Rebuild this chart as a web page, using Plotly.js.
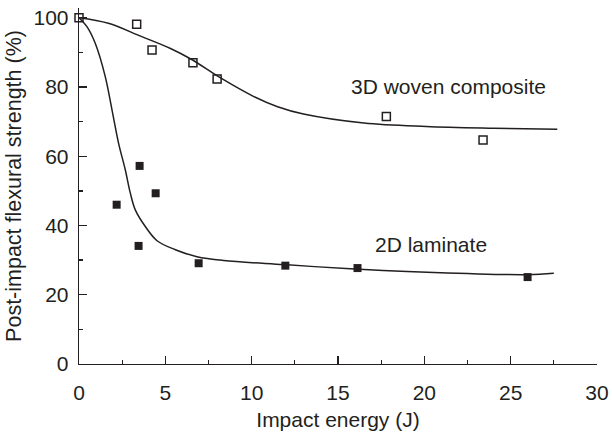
<!DOCTYPE html>
<html>
<head>
<meta charset="utf-8">
<script src="https://cdn.plot.ly/plotly-3.0.1.min.js"></script>
<style>html,body{margin:0;padding:0;background:#fff}#chart{width:612px;height:434px}</style>
</head>
<body>
<div id="chart"></div>
<script>
// Measured points: 3D woven composite (open squares)
const wovenX = [0, 3.34, 4.23, 6.6, 8.0, 17.8, 23.4];
const wovenY = [100, 98.1, 90.7, 87.0, 82.3, 71.5, 64.7];
// Measured points: 2D laminate (filled squares)
const lamX = [2.18, 3.51, 4.44, 3.45, 6.93, 11.95, 16.13, 25.98];
const lamY = [46.0, 57.2, 49.3, 34.1, 29.1, 28.4, 27.7, 25.1];
// Fitted curves
const wovenFitX = [0, 1.7, 3.6, 5.3, 6.5, 8.2, 10.1, 11.5, 13.0, 16.5, 20.1, 24.0, 27.7];
const wovenFitY = [100, 98.4, 94.6, 91.1, 88.0, 82.6, 77.3, 74.3, 72.2, 69.6, 68.6, 68.1, 67.8];
const lamFitX = [0, 0.46, 0.94, 1.52, 1.91, 2.29, 2.68, 2.97, 3.26, 3.84, 4.52, 5.58, 6.83, 8.37, 11.85, 15.7, 19.0, 22.5, 26.0, 27.5];
const lamFitY = [100, 97.4, 92.6, 83.0, 73.4, 63.8, 56.1, 49.4, 44.5, 39.7, 35.6, 33.0, 31.0, 29.9, 28.7, 27.5, 26.7, 26.1, 25.8, 26.2];
// Labels
const xTitle = 'Impact energy (J)';
const yTitle = 'Post-impact flexural strength (%)';
const wovenLabel = '3D woven composite';
const lamLabel = '2D laminate';

const ink = '#231f20';
const fontFam = 'Liberation Sans, Arial, Helvetica, sans-serif';

const traces = [
  {x: wovenFitX, y: wovenFitY, mode: 'lines', line: {color: ink, width: 1.5, shape: 'spline', smoothing: 1.0}, hoverinfo: 'skip', cliponaxis: false},
  {x: lamFitX, y: lamFitY, mode: 'lines', line: {color: ink, width: 1.5, shape: 'spline', smoothing: 1.0}, hoverinfo: 'skip', cliponaxis: false},
  {x: lamX, y: lamY, mode: 'markers', marker: {symbol: 'square', size: 8, color: ink, line: {width: 0}}, cliponaxis: false},
  {x: wovenX, y: wovenY, mode: 'markers', marker: {symbol: 'square-open', size: 8, color: ink, line: {width: 1.5, color: ink}}, cliponaxis: false}
];

const layout = {
  width: 612, height: 434,
  margin: {l: 79, r: 15, t: 8, b: 70},
  paper_bgcolor: '#fff', plot_bgcolor: '#fff',
  showlegend: false,
  font: {family: fontFam, size: 21, color: ink},
  xaxis: {
    range: [0, 30], tickvals: [0, 5, 10, 15, 20, 25, 30],
    ticks: 'inside', ticklen: 8, tickwidth: 1.3, tickcolor: ink,
    minor: {tickvals: [2.5, 7.5, 12.5, 17.5, 22.5, 27.5], ticks: 'inside', ticklen: 4, tickwidth: 1.3, tickcolor: ink},
    showline: true, linecolor: ink, linewidth: 1.3, showgrid: false, zeroline: false,
    tickfont: {size: 21, color: ink}, ticklabelstandoff: 9,
    title: {text: xTitle, font: {size: 21, color: ink}, standoff: 9}
  },
  yaxis: {
    range: [0, 102.8], tickvals: [0, 20, 40, 60, 80, 100],
    ticks: 'inside', ticklen: 8, tickwidth: 1.3, tickcolor: ink,
    minor: {tickvals: [10, 30, 50, 70, 90], ticks: 'inside', ticklen: 4, tickwidth: 1.3, tickcolor: ink},
    showline: true, linecolor: ink, linewidth: 1.3, showgrid: false, zeroline: false,
    tickfont: {size: 21, color: ink}, ticklabelstandoff: 5,
    title: {text: yTitle, font: {size: 21.5, color: ink}, standoff: 6}
  },
  annotations: [
    {x: 21.4, y: 80.0, xref: 'x', yref: 'y', text: wovenLabel, showarrow: false, font: {size: 21, color: ink}, xanchor: 'center', yanchor: 'middle'},
    {x: 20.4, y: 34.4, xref: 'x', yref: 'y', text: lamLabel, showarrow: false, font: {size: 21, color: ink}, xanchor: 'center', yanchor: 'middle'}
  ]
};

Plotly.newPlot('chart', traces, layout, {staticPlot: true, displayModeBar: false});
</script>
</body>
</html>
